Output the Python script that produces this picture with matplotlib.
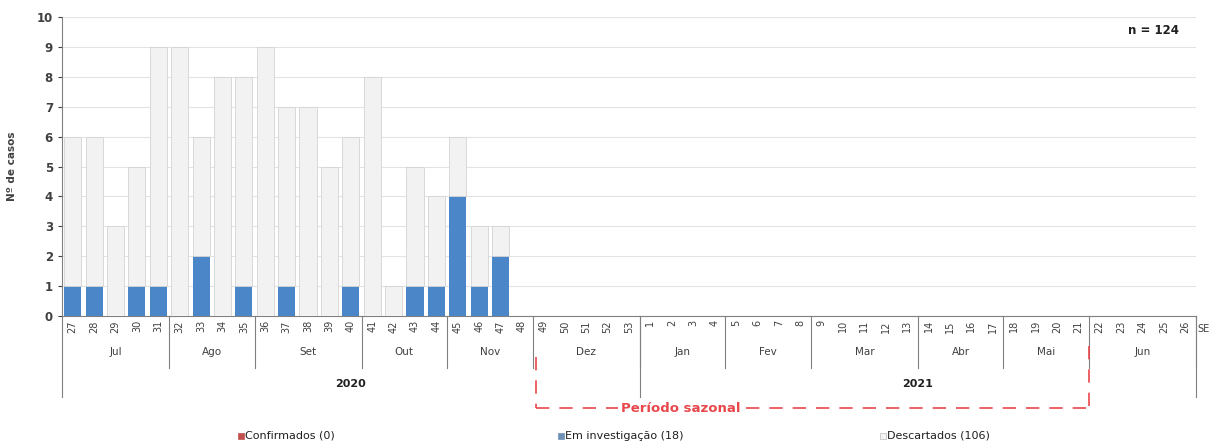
import matplotlib
matplotlib.use("Agg")
import matplotlib.pyplot as plt
import matplotlib.transforms as mtransforms
from matplotlib.patches import Rectangle

weeks = [str(w) for w in range(27, 54)] + [str(w) for w in range(1, 27)]
totals = [6, 6, 3, 5, 9, 9, 6, 8, 8, 9, 7, 7, 5, 6, 8, 1, 5, 4, 6, 3, 3] + [0] * 32
investigacao = [1, 1, 0, 1, 1, 0, 2, 0, 1, 0, 1, 0, 0, 1, 0, 0, 1, 1, 4, 1, 2] + [0] * 32
confirmados = [0] * 53
descartados = [t - i - c for t, i, c in zip(totals, investigacao, confirmados)]
months = ["Jul", "Ago", "Set", "Out", "Nov", "Dez", "Jan", "Fev", "Mar", "Abr", "Mai", "Jun"]
month_sizes = [5, 4, 5, 4, 4, 5, 4, 4, 5, 4, 4, 5]
years = ["2020", "2021"]
year_sizes = [27, 26]
legend_labels = ["Confirmados (0)", "Em investigação (18)", "Descartados (106)"]

C_RED = "#c0504d"
C_BLUE = "#4a86c8"
C_GRAY = "#f2f2f2"
C_EDGE = "#d4d4d4"
TXT = "#404040"

fig = plt.figure(figsize=(12.21, 4.47), dpi=100)
ax = fig.add_axes([62 / 1221, 1 - 316 / 447, (1196 - 62) / 1221, 299 / 447])

x = list(range(len(weeks)))
ax.bar(x, confirmados, width=0.8, color=C_RED, zorder=3)
ax.bar(x, investigacao, width=0.8, bottom=confirmados, color=C_BLUE, zorder=3)
bot2 = [c + i for c, i in zip(confirmados, investigacao)]
ax.bar(x, descartados, width=0.8, bottom=bot2, color=C_GRAY, edgecolor=C_EDGE, linewidth=0.6, zorder=3)

ax.set_xlim(-0.5, len(weeks) - 0.5)
ax.set_ylim(0, 10)
ax.set_yticks(range(0, 11))
ax.tick_params(axis="y", labelsize=8.5, colors=TXT, length=3, width=0.8)
for lbl in ax.get_yticklabels():
    lbl.set_fontweight("bold")
ax.yaxis.grid(True, color="#e3e3e3", linewidth=0.8, zorder=0)
ax.set_axisbelow(True)
for s in ["top", "right"]:
    ax.spines[s].set_visible(False)
ax.spines["left"].set_color("#808080")
ax.spines["bottom"].set_color("#808080")
ax.set_ylabel("Nº de casos", fontsize=7.5, fontweight="bold", color=TXT, labelpad=14)

ax.set_xticks(x)
ax.set_xticklabels(weeks, rotation=90, fontsize=7, color=TXT)
ax.tick_params(axis="x", length=0, pad=3)

tr = mtransforms.blended_transform_factory(ax.transData, ax.transAxes)
lc = "#808080"

# month groups
pos = -0.5
for m, n in zip(months, month_sizes):
    ax.text(pos + n / 2, -0.12, m, transform=tr, ha="center", va="center", fontsize=7.5, color=TXT)
    pos += n
    ax.plot([pos, pos], [0, -0.174], transform=tr, color=lc, lw=0.8, clip_on=False)

# year groups
ax.plot([-0.5, -0.5], [0, -0.271], transform=tr, color=lc, lw=0.8, clip_on=False)
pos = -0.5
for y, n in zip(years, year_sizes):
    ax.text(pos + n / 2, -0.227, y, transform=tr, ha="center", va="center", fontsize=8, fontweight="bold", color="#202020")
    pos += n
    ax.plot([pos, pos], [0, -0.271], transform=tr, color=lc, lw=0.8, clip_on=False)

ax.text(len(weeks) - 0.45, -0.045, "SE", transform=tr, ha="left", va="center", fontsize=7, color=TXT)

# seasonal period box (week 49 of 2020 to week 21 of 2021)
x0 = 22 - 0.35
x1 = 47 + 0.5
ls = (0, (8, 6))
red = "#e8474b"
ax.plot([x0, x0], [-0.137, -0.308], transform=tr, color=red, lw=1.2, ls=ls, clip_on=False)
ax.plot([x1, x1], [-0.10, -0.308], transform=tr, color=red, lw=1.2, ls=ls, clip_on=False)
ax.plot([x0, x1], [-0.308, -0.308], transform=tr, color=red, lw=1.2, ls=ls, clip_on=False)
ax.text(28.4, -0.308, "Período sazonal", transform=tr, ha="center", va="center", fontsize=9.5,
        fontweight="bold", color=red,
        bbox=dict(facecolor="white", edgecolor="none", pad=1.5))

ax.text(0.985, 0.955, "n = 124", transform=ax.transAxes, ha="right", va="center", fontsize=8.5,
        fontweight="bold", color="#202020")

# legend
leg_x = [238, 558, 880]
leg_c = [C_RED, "#6f8fb5", "#f4f4f4"]
leg_e = [C_RED, "#6f8fb5", "#bbbbbb"]
for lx, lab, c, e in zip(leg_x, legend_labels, leg_c, leg_e):
    fig.patches.append(Rectangle((lx / 1221, 1 - 439 / 447), 6 / 1221, 6 / 447, transform=fig.transFigure,
                                 facecolor=c, edgecolor=e, linewidth=0.5))
    fig.text((lx + 7) / 1221, 1 - 436 / 447, lab, ha="left", va="center", fontsize=8, color="#202020")

fig.savefig("out.png", dpi=100)
